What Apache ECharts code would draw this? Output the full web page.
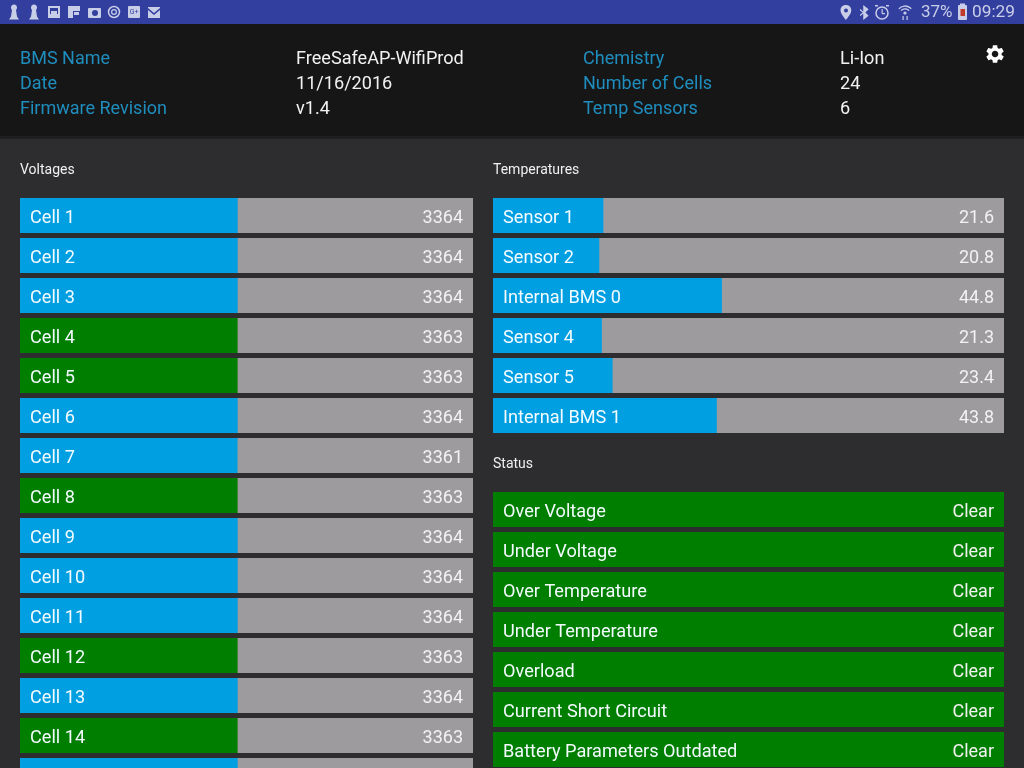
<!DOCTYPE html>
<html><head><meta charset="utf-8">
<style>html,body{margin:0;padding:0;background:#2d2c2e;overflow:hidden}#c{width:1024px;height:768px}</style>
<script src="https://cdn.jsdelivr.net/npm/echarts@6/dist/echarts.min.js"></script>
</head><body><div id="c"></div>
<script>
const cellNames = ['Cell 1','Cell 2','Cell 3','Cell 4','Cell 5','Cell 6','Cell 7','Cell 8','Cell 9','Cell 10','Cell 11','Cell 12','Cell 13','Cell 14','Cell 15'];
const cellValues = [3364,3364,3364,3363,3363,3364,3361,3363,3364,3364,3364,3363,3364,3363,3364];
const cellStates = ['b','b','b','g','g','b','b','g','b','b','b','g','b','g','b'];
const sensorNames = ['Sensor 1','Sensor 2','Internal BMS 0','Sensor 4','Sensor 5','Internal BMS 1'];
const sensorValues = [21.6,20.8,44.8,21.3,23.4,43.8];
const statusNames = ['Over Voltage','Under Voltage','Over Temperature','Under Temperature','Overload','Current Short Circuit','Battery Parameters Outdated'];
const statusValues = ['Clear','Clear','Clear','Clear','Clear','Clear','Clear'];
const infoLeft = [['BMS Name','FreeSafeAP-WifiProd'],['Date','11/16/2016'],['Firmware Revision','v1.4']];
const infoRight = [['Chemistry','Li-Ion'],['Number of Cells','24'],['Temp Sensors','6']];

const BLUE='#009fe1', GREEN='#007e00', GREY='#9d9b9d', FONT='Roboto';
const chart = echarts.init(document.getElementById('c'),null,{renderer:'canvas'});

function panel(i,left,top,width,names,max){
  return {
    grid:{left:left,top:top-2.5,width:width,height:names.length*40,containLabel:false,outerBoundsMode:'none'},
    xAxis:{gridIndex:i,type:'value',min:0,max:max,show:false},
    yAxis:{gridIndex:i,type:'category',inverse:true,data:names,z:6,
      axisLine:{show:false},axisTick:{show:false},splitLine:{show:false},
      axisLabel:{inside:true,margin:10,color:'#f4fbff',fontFamily:FONT,fontSize:18.15,verticalAlign:'top',lineHeight:5}}
  };
}
const panels=[panel(0,20,198,453,cellNames,7000),panel(1,493,198,511,sensorNames,100),panel(2,493,492,511,statusNames,1)];

function track(i,max,labels,color){
  return {type:'bar',xAxisIndex:i,yAxisIndex:i,barWidth:35,barGap:'-100%',silent:true,z:2,
    data:labels.map(()=>max),itemStyle:{color:color},
    label:{show:true,position:'insideRight',distance:10,offset:[0,3],color:'#f2f2f2',fontFamily:FONT,fontSize:18,
      formatter:p=>String(labels[p.dataIndex])}};
}
function fill(i,values,colorOf){
  return {type:'bar',xAxisIndex:i,yAxisIndex:i,barWidth:35,barGap:'-100%',silent:true,z:3,
    data:values.map((v,k)=>({value:v,itemStyle:{color:colorOf(k)}}))};
}

const ICON='#c9cee8';
const gear='M19.14 12.94c.04-.3.06-.61.06-.94 0-.32-.02-.64-.07-.94l2.03-1.58c.18-.14.23-.41.12-.61l-1.92-3.32c-.12-.22-.37-.29-.59-.22l-2.39.96c-.5-.38-1.03-.7-1.62-.94l-.36-2.54c-.04-.24-.24-.41-.48-.41h-3.84c-.24 0-.43.17-.47.41l-.36 2.54c-.59.24-1.13.57-1.62.94l-2.39-.96c-.22-.08-.47 0-.59.22L2.74 8.87c-.12.21-.08.47.12.61l2.03 1.58c-.05.3-.09.63-.09.94s.02.64.07.94l-2.03 1.58c-.18.14-.23.41-.12.61l1.92 3.32c.12.22.37.29.59.22l2.39-.96c.5.38 1.03.7 1.62.94l.36 2.54c.05.24.24.41.48.41h3.84c.24 0 .44-.17.47-.41l.36-2.54c.59-.24 1.13-.56 1.62-.94l2.39.96c.22.08.47 0 .59-.22l1.92-3.32c.12-.22.07-.47-.12-.61l-2.01-1.58zM12 15.6c-1.98 0-3.6-1.62-3.6-3.6s1.62-3.6 3.6-3.6 3.6 1.62 3.6 3.6-1.62 3.6-3.6 3.6z';
const g=[];
let shapeId=0;
const rect=(x,y,w,h,c,r)=>g.push({type:'rect',silent:true,shape:{x,y,width:w,height:h,r:r||0},style:{fill:c}});
const circ=(cx,cy,r,c,sw)=>g.push({type:'circle',silent:true,shape:{cx,cy,r},style:sw?{fill:'none',stroke:c,lineWidth:sw}:{fill:c}});
const path=(d,x,y,s,c)=>{
  const name='ico'+(shapeId++);
  echarts.graphic.registerShape(name,echarts.graphic.extendPath(d,{}));
  g.push({type:name,silent:true,shape:{},x,y,scaleX:s,scaleY:s,style:{fill:c}});
};
const text=(x,y,t,size,c,align)=>g.push({type:'text',silent:true,x,y,style:{text:t,fill:c,font:size+'px '+FONT,textAlign:align||'left',textVerticalAlign:'middle'}});

rect(0,0,1024,24,'#333f9f');
rect(0,24,1024,113,'#161617');
rect(0,136,1024,3,'#1f1f20');

// status bar icons
const pawn='M5 0C7 0 8 1.5 8 3C8 4 7.5 5 7 5.5L8 12L10 15L0 15L2 12L3 5.5C2.5 5 2 4 2 3C2 1.5 3 0 5 0Z';
path(pawn,9,4.5,1,ICON); path(pawn,29,4.5,1,ICON);
rect(48,6,12,12,ICON); rect(50,8,8,6,'#333f9f'); rect(51,11,6,3,ICON);
rect(68,6,12,5,ICON); rect(68,6,5,12,ICON); rect(74,12,5,3,ICON);
rect(88,8,13,10,ICON,1); circ(95,13,3,'#333f9f');
circ(114,12,5.5,ICON,1.5); circ(114,12,2.4,ICON,1.2);
rect(128,6,12,12,ICON,1); text(134,12,'G+',7,'#333f9f','center');
rect(148,7,12,11,ICON); path('M0 0L6 5L12 0L12 2L6 7L0 2Z',148,8,1,'#333f9f');
path('M5 0C8 0 10 2 10 5C10 8 7 11 5 14C3 11 0 8 0 5C0 2 2 0 5 0Z',840.5,5,1.08,ICON); circ(846,10.5,2,'#333f9f');
path('M3 0L8 4L5 7L8 10L3 14L3 8L0 10.5L0 9L2.5 7L0 5L0 3.5L3 6Z',860,5,1.08,ICON);
circ(882,13,6,ICON,1.5); rect(881.5,9,1.2,4.5,ICON); rect(882,13,3,1.2,ICON); rect(875,5,3,1.5,ICON); rect(886,5,3,1.5,ICON);
for(const r of [8,5.2]) g.push({type:'arc',silent:true,shape:{cx:905,cy:14,r:r,startAngle:Math.PI*1.22,endAngle:Math.PI*1.78},style:{fill:'none',stroke:ICON,lineWidth:1.3}});
circ(905,13,1.6,ICON); rect(902.5,16,1.2,4,ICON); rect(906.5,16,1.2,4,ICON);
text(921,12.5,'37%',17,ICON);
rect(958,5,9,15,ICON,1); rect(960,3.5,5,2,ICON); rect(960.5,9,4.5,7,'#c0392b');
text(972,12.5,'09:29',17.3,ICON);

// header
[[20,296,infoLeft],[583,840,infoRight]].forEach(([xa,xb,rows])=>rows.forEach((r,k)=>{
  text(xa,59+25*k,r[0],18,'#1f8dbd');
  text(xb,59+25*k,r[1],18.1,'#f2f2f2');
}));
path(gear,984,43,0.92,'#ffffff');
text(20,170.5,'Voltages',14,'#f0f0f0');
text(493,170.5,'Temperatures',14,'#f0f0f0');
text(493,464.5,'Status',14,'#f0f0f0');

chart.setOption({
  animation:false,
  backgroundColor:'#2d2c2e',
  grid:panels.map(p=>p.grid),
  xAxis:panels.map(p=>p.xAxis),
  yAxis:panels.map(p=>p.yAxis),
  series:[
    track(0,7000,cellValues,GREY),
    fill(0,cellValues,k=>cellStates[k]==='g'?GREEN:BLUE),
    track(1,100,sensorValues,GREY),
    fill(1,sensorValues,()=>BLUE),
    track(2,1,statusValues,GREEN)
  ],
  graphic:{elements:g.map((e,k)=>Object.assign({z:k+1},e))}
});
</script></body></html>
